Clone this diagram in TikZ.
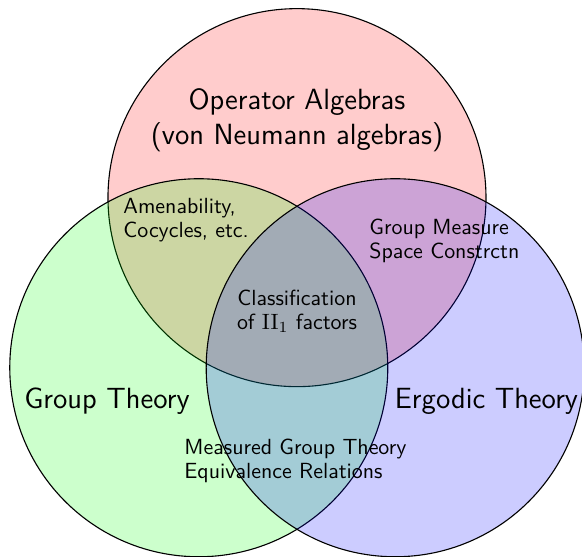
\documentclass[tikz,border=0pt]{standalone}
\usepackage{tikz}
\usetikzlibrary{positioning}

\begin{document}
\begin{tikzpicture}[
    font=\sffamily,
    setcirc/.style={draw=black, line width=0.5pt, fill opacity=0.2, draw opacity=1},
    bigtxt/.style={align=center, font=\sffamily\fontsize{13.2}{15.8}\selectfont},
    smalltxt/.style={align=left, font=\sffamily\fontsize{9.9}{10.9}\selectfont, inner sep=0pt},
]
\useasboundingbox (-4.714,-3.889) rectangle (4.524,4.937);

% the three sets
\draw[setcirc, fill=red] (90:1.8) circle (3cm);
\draw[setcirc, fill=green] (210:1.8) circle (3cm);
\draw[setcirc, fill=blue] (330:1.8) circle (3cm);

% set labels
\node[bigtxt] (opalg) at (0,3.03) {Operator Algebras\\(von Neumann algebras)};
\node[bigtxt] (grp) at (-3.016,-1.43) {Group Theory};
\node[bigtxt] (erg) at (3.008,-1.43) {Ergodic Theory};

% overlaps
\node[smalltxt, anchor=west] (amen) at (-2.762,1.44) {Amenability,\\Cocycles, etc.};
\node[smalltxt, anchor=west] (gmsc) at (1.143,1.11) {Group Measure\\Space Constrctn};
\node[smalltxt, align=center] (class) at (0,0.0) {Classification\\of $\mathrm{II}_1$ factors};
\node[smalltxt, anchor=west] (mgt) at (-1.794,-2.38) {Measured Group Theory\\Equivalence Relations};

\end{tikzpicture}
\end{document}
